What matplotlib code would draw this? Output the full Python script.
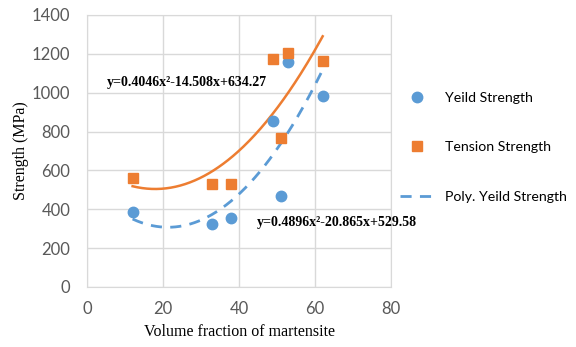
import numpy as np
import matplotlib
matplotlib.use("Agg")
import matplotlib.pyplot as plt

# data
vol_frac = [12, 33, 38, 49, 51, 53, 62]
yield_strength = [388, 322, 357, 852, 468, 1160, 985]
tension_strength = [562, 528, 530, 1175, 768, 1205, 1162]

# trendline coefficients as printed on the chart
yield_poly = [0.4896, -20.865, 529.58]
tension_poly = [0.4046, -14.508, 634.27]
yield_eq = "y=0.4896x²-20.865x+529.58"
tension_eq = "y=0.4046x²-14.508x+634.27"

x_ticks = [0, 20, 40, 60, 80]
y_ticks = [0, 200, 400, 600, 800, 1000, 1200, 1400]

blue = "#5b9bd5"
orange = "#ed7d31"
grey = "#595959"

fig = plt.figure(figsize=(5.76, 3.47), dpi=100)
ax = fig.add_axes([0.151, 0.173, 0.528, 0.784])

xs = np.linspace(min(vol_frac), max(vol_frac), 200)
ax.plot(xs, np.polyval(tension_poly, xs), color=orange, lw=1.8, zorder=2)
ax.plot(xs, np.polyval(yield_poly, xs), color=blue, lw=2, dashes=(4, 3),
        label="Poly. Yeild Strength", zorder=2)
ax.plot(vol_frac, yield_strength, "o", color=blue, ms=7.5, ls="none",
        label="Yeild Strength", zorder=3)
ax.plot(vol_frac, tension_strength, "s", color=orange, ms=7, ls="none",
        label="Tension Strength", zorder=3)

ax.set_xlim(0, 80)
ax.set_ylim(0, 1400)
ax.set_xticks(x_ticks)
ax.set_yticks(y_ticks)
ax.grid(True, color="#d9d9d9", lw=1)
ax.set_axisbelow(True)
for s in ax.spines.values():
    s.set_color("#d9d9d9")
ax.tick_params(axis="y", length=0, labelsize=12, labelcolor=grey, pad=12)
ax.tick_params(axis="x", length=0, labelsize=12, labelcolor=grey, pad=10)
for lab in ax.get_xticklabels() + ax.get_yticklabels():
    lab.set_family("Lato")

ax.set_xlabel("Volume fraction of martensite", family="Liberation Serif",
              fontsize=11.5, labelpad=5)
ax.set_ylabel("Strength (MPa)", family="Liberation Serif", fontsize=11.5,
              labelpad=2)

ax.text(5.2, 1050, tension_eq, family="Liberation Serif", weight="bold",
        fontsize=10, va="center")
ax.text(44.8, 330, yield_eq, family="Liberation Serif", weight="bold",
        fontsize=10, va="center")

h, l = ax.get_legend_handles_labels()
order = [1, 2, 0]
fig.legend([h[i] for i in order], [l[i] for i in order],
           loc="upper left", bbox_to_anchor=(0.672, 0.772), frameon=False,
           prop={"family": "Lato", "size": 10.2}, labelspacing=2.65,
           handlelength=2.4, handletextpad=0.8)

fig.savefig("out.png", dpi=100)
